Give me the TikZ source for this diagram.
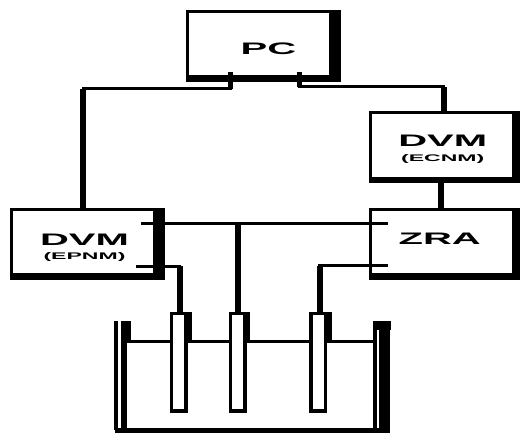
\documentclass[tikz,border=0pt]{standalone}
\usepackage{fontspec}
\setmainfont{Liberation Sans}[FakeStretch=2.4]
\usepackage{tikz}
\usetikzlibrary{positioning}
\tikzset{
  blk/.style n args={4}{draw=black,fill=white,line width=2.25pt,
              minimum width=#1,minimum height=#2,inner sep=0pt,
              align=center,font=\bfseries,
              path picture={
                \fill[black] ([xshift=-#3]path picture bounding box.north east)
                   rectangle (path picture bounding box.south east);
                \fill[black] ([yshift=#4]path picture bounding box.south west)
                   rectangle (path picture bounding box.south east);}},
  elec/.style={draw=black,fill=white,line width=2.6pt,
              minimum width=10.9pt,minimum height=73.1pt,inner sep=0pt},
  wire/.style={line width=2.25pt,line cap=rect},
  stub/.style={line width=3.75pt},
  lead/.style={line width=4.5pt},
  wall/.style={line width=2.4pt},
}
\newcommand{\bigtxt}[1]{{\fontsize{12.5}{12.5}\selectfont #1}}
\newcommand{\smalltxt}[1]{{\fontsize{7.2}{9}\selectfont #1}}
\begin{document}
\begin{tikzpicture}[x=0.75pt,y=-0.75pt]
  \useasboundingbox (0,0) rectangle (520,434);
  % instruments
  \node[blk={114pt}{51.75pt}{8pt}{4pt}] (pc) at (263.5,46)
       {\hspace*{7.5pt}\raisebox{-6.75pt}[0pt][0pt]{\bigtxt{PC}}};
  \node[blk={111.4pt}{51.75pt}{5.5pt}{3.5pt},below right=21.75pt and 21pt of pc.south east] (ecnm)
       {\rule{0pt}{12pt}\hspace*{-3pt}\bigtxt{DVM}\\[-1pt]\hspace*{-3pt}\smalltxt{(ECNM)}};
  \node[blk={111.4pt}{51.75pt}{5.5pt}{4.5pt},below=18.75pt of ecnm] (zra)
       {\hspace*{-7.5pt}\raisebox{-0.75pt}[0pt][0pt]{\bigtxt{ZRA}}};
  \node[blk={114pt}{51.75pt}{8pt}{4pt},left=153pt of zra] (epnm)
       {\rule{0pt}{13.5pt}\hspace*{-4.5pt}\bigtxt{DVM}\\[-1.5pt]\hspace*{-4.5pt}\smalltxt{(EPNM)}};

  % cell, walls and level
  \coordinate (wallL) at (116,321);
  \coordinate (wallR) at (375,321);
  \coordinate (floorL) at (114.5,430.3);
  \coordinate (floorR) at (389.5,430.3);
  \draw[line width=1.9pt] (127,341.5) -- (373,341.5);
  \draw[wall] (wallL) -- (wallL |- floorL);
  \fill (121,321) rectangle (127,433);
  \fill (121,321) rectangle (131,341);
  \draw[line width=3pt] (wallR) -- (wallR |- floorL);
  \fill (373,321) rectangle (390.5,330);
  \fill (378.5,321) rectangle (389.5,433);
  \draw[line width=4pt] (floorL) -- (floorR);

  % electrodes
  \node[elec,below right=24pt and 3.4pt of epnm.south east] (el1) {};
  \node[elec,right=31pt of el1] (el2) {};
  \node[elec,right=46.9pt of el2] (el3) {};
  \fill (el1.north east) rectangle ++(4.5,29);
  \fill (el2.north east) rectangle ++(3.5,29);
  \fill (el3.north east) rectangle ++(4.5,29);

  % connections
  \coordinate (pcA) at (230,72);
  \coordinate (pcB) at (299,72);
  \coordinate (jA) at (83,89);
  \coordinate (jB) at (443.5,87);
  \coordinate (jC) at (440.5,183);
  \coordinate (epA) at (142,224);
  \coordinate (zrA) at (386,224);
  \coordinate (epB) at (137,266);
  \coordinate (zrB) at (386,265.5);
  \coordinate (elA) at ([xshift=1pt]el1.north);
  \coordinate (elC) at ([xshift=1pt]el3.north);
  \draw[stub] (pcA) -- (pcA |- jA);
  \draw[stub] (pcB) -- (pcB |- jB);
  \draw[wire] (pcA |- jA) -- (jA);
  \draw[wire] (pcB |- jB) -- (jB);
  \draw[lead] (jA) -- (jA |- epnm.north);
  \draw[lead] (jB) -- (jB |- ecnm.north);
  \draw[lead] (ecnm.south -| jC) -- (zra.north -| jC);
  \draw[wire] (epA) -- (zrA);
  \draw[lead] (el2.north |- epA) -- (el2.north);
  \draw[wire] (epB) -- (elA |- epB);
  \draw[lead] (elA |- epB) -- (elA);
  \draw[wire] (zrB) -- (elC |- zrB);
  \draw[lead] (elC |- zrB) -- (elC);
\end{tikzpicture}
\end{document}
